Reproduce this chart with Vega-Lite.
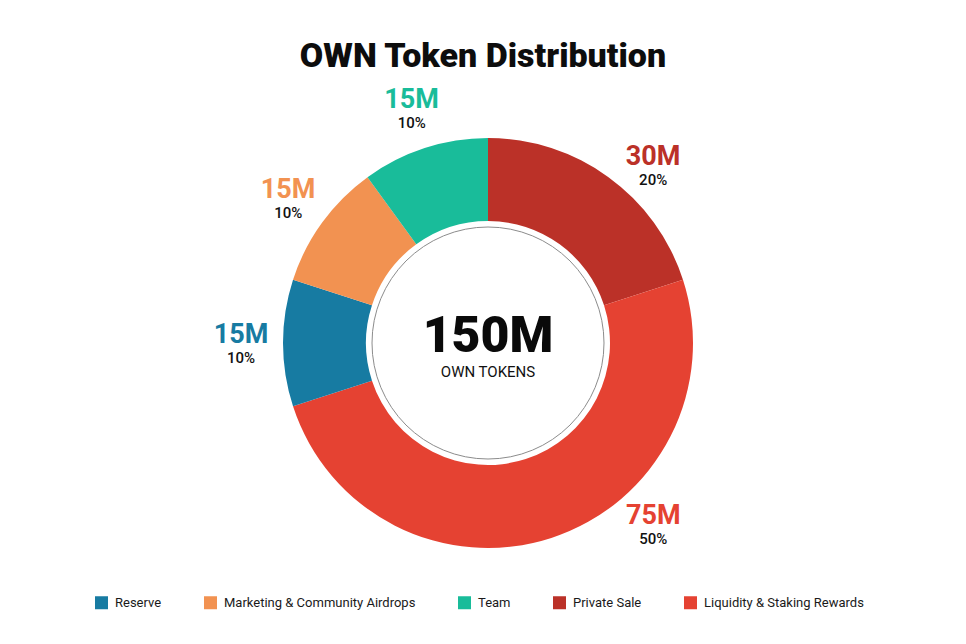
{
  "$schema": "https://vega.github.io/schema/vega-lite/v6.json",
  "width": 956,
  "height": 500,
  "autosize": "none",
  "padding": {"left": 10, "top": 93, "right": 0, "bottom": 51},
  "background": "white",
  "title": {"text": "OWN Token Distribution", "fontSize": 34, "font": "Roboto", "fontWeight": 900, "color": "#0d0d0d", "anchor": "middle", "baseline": "alphabetic", "offset": 28, "dx": -5, "dy": 48},
  "config": {"view": {"stroke": null}},
  "datasets": {
    "dist": [
      {"name": "Private Sale", "tokens": 30, "ord": 1, "label": "30M", "pct": "20%"},
      {"name": "Liquidity & Staking Rewards", "tokens": 75, "ord": 2, "label": "75M", "pct": "50%"},
      {"name": "Reserve", "tokens": 15, "ord": 3, "label": "15M", "pct": "10%"},
      {"name": "Marketing & Community Airdrops", "tokens": 15, "ord": 4, "label": "15M", "pct": "10%"},
      {"name": "Team", "tokens": 15, "ord": 5, "label": "15M", "pct": "10%"}
    ]
  },
  "data": {"name": "dist"},
  "resolve": {"scale": {"theta": "independent"}},
  "layer": [
    {
      "mark": {"type": "arc", "outerRadius": 205, "innerRadius": 122},
      "encoding": {
        "theta": {"field": "tokens", "type": "quantitative", "stack": true},
        "order": {"field": "ord", "type": "quantitative"},
        "color": {
          "field": "name", "type": "nominal",
          "scale": {
            "domain": ["Reserve", "Marketing & Community Airdrops", "Team", "Private Sale", "Liquidity & Staking Rewards"],
            "range": ["#177ba2", "#f29251", "#19bc9a", "#bb3128", "#e54232"]
          },
          "legend": {
            "title": null, "orient": "none", "direction": "horizontal",
            "legendX": 85, "legendY": 503,
            "symbolType": "square", "symbolSize": 169, "symbolStrokeWidth": 0, "symbolOpacity": 1,
            "labelFont": "Roboto", "labelFontSize": 13, "labelColor": "#1a1a1a", "labelLimit": 400,
            "labelOffset": 7, "columnPadding": 42
          }
        }
      }
    },
    {
      "data": {"values": [{"full": 1}]},
      "mark": {"type": "arc", "outerRadius": 116, "fill": "white", "stroke": "#8c8c8c", "strokeWidth": 1},
      "encoding": {"theta": {"field": "full", "type": "quantitative"}}
    },
    {
      "data": {"values": [{"big": "150M", "small": "OWN TOKENS"}]},
      "mark": {"type": "text", "font": "Roboto", "fontWeight": 900, "fontSize": 50, "baseline": "alphabetic", "dy": 9, "color": "#0a0a0a", "align": "center"},
      "encoding": {"text": {"field": "big"}}
    },
    {
      "data": {"values": [{"big": "150M", "small": "OWN TOKENS"}]},
      "mark": {"type": "text", "font": "Roboto", "fontWeight": 400, "fontSize": 15, "baseline": "alphabetic", "dy": 34, "color": "#111111", "align": "center"},
      "encoding": {"text": {"field": "small"}}
    },
    {
      "mark": {"type": "text", "radius": 247, "thetaOffset": 0, "font": "Roboto", "fontWeight": 700, "fontSize": 27, "baseline": "alphabetic", "align": "center"},
      "encoding": {
        "theta": {"field": "tokens", "type": "quantitative", "stack": true},
        "order": {"field": "ord", "type": "quantitative"},
        "color": {"field": "name", "type": "nominal", "legend": null},
        "text": {"condition": {"test": "datum.ord >= 3", "field": "label"}, "value": ""}
      }
    },
    {
      "mark": {"type": "text", "radius": 243, "thetaOffset": 0.119, "font": "Roboto", "fontWeight": 700, "fontSize": 27, "baseline": "alphabetic", "align": "center"},
      "encoding": {
        "theta": {"field": "tokens", "type": "quantitative", "stack": true},
        "order": {"field": "ord", "type": "quantitative"},
        "color": {"field": "name", "type": "nominal", "legend": null},
        "text": {"condition": {"test": "datum.ord == 1", "field": "label"}, "value": ""}
      }
    },
    {
      "mark": {"type": "text", "radius": 245, "thetaOffset": -0.426, "font": "Roboto", "fontWeight": 700, "fontSize": 27, "baseline": "alphabetic", "align": "center"},
      "encoding": {
        "theta": {"field": "tokens", "type": "quantitative", "stack": true},
        "order": {"field": "ord", "type": "quantitative"},
        "color": {"field": "name", "type": "nominal", "legend": null},
        "text": {"condition": {"test": "datum.ord == 2", "field": "label"}, "value": ""}
      }
    },
    {
      "mark": {"type": "text", "radius": 247, "thetaOffset": 0, "font": "Roboto", "fontWeight": 500, "fontSize": 15, "baseline": "alphabetic", "align": "center", "dy": 20, "color": "#111111"},
      "encoding": {
        "theta": {"field": "tokens", "type": "quantitative", "stack": true},
        "order": {"field": "ord", "type": "quantitative"},
        "text": {"condition": {"test": "datum.ord >= 3", "field": "pct"}, "value": ""}
      }
    },
    {
      "mark": {"type": "text", "radius": 243, "thetaOffset": 0.119, "font": "Roboto", "fontWeight": 500, "fontSize": 15, "baseline": "alphabetic", "align": "center", "dy": 20, "color": "#111111"},
      "encoding": {
        "theta": {"field": "tokens", "type": "quantitative", "stack": true},
        "order": {"field": "ord", "type": "quantitative"},
        "text": {"condition": {"test": "datum.ord == 1", "field": "pct"}, "value": ""}
      }
    },
    {
      "mark": {"type": "text", "radius": 245, "thetaOffset": -0.426, "font": "Roboto", "fontWeight": 500, "fontSize": 15, "baseline": "alphabetic", "align": "center", "dy": 20, "color": "#111111"},
      "encoding": {
        "theta": {"field": "tokens", "type": "quantitative", "stack": true},
        "order": {"field": "ord", "type": "quantitative"},
        "text": {"condition": {"test": "datum.ord == 2", "field": "pct"}, "value": ""}
      }
    }
  ]
}
